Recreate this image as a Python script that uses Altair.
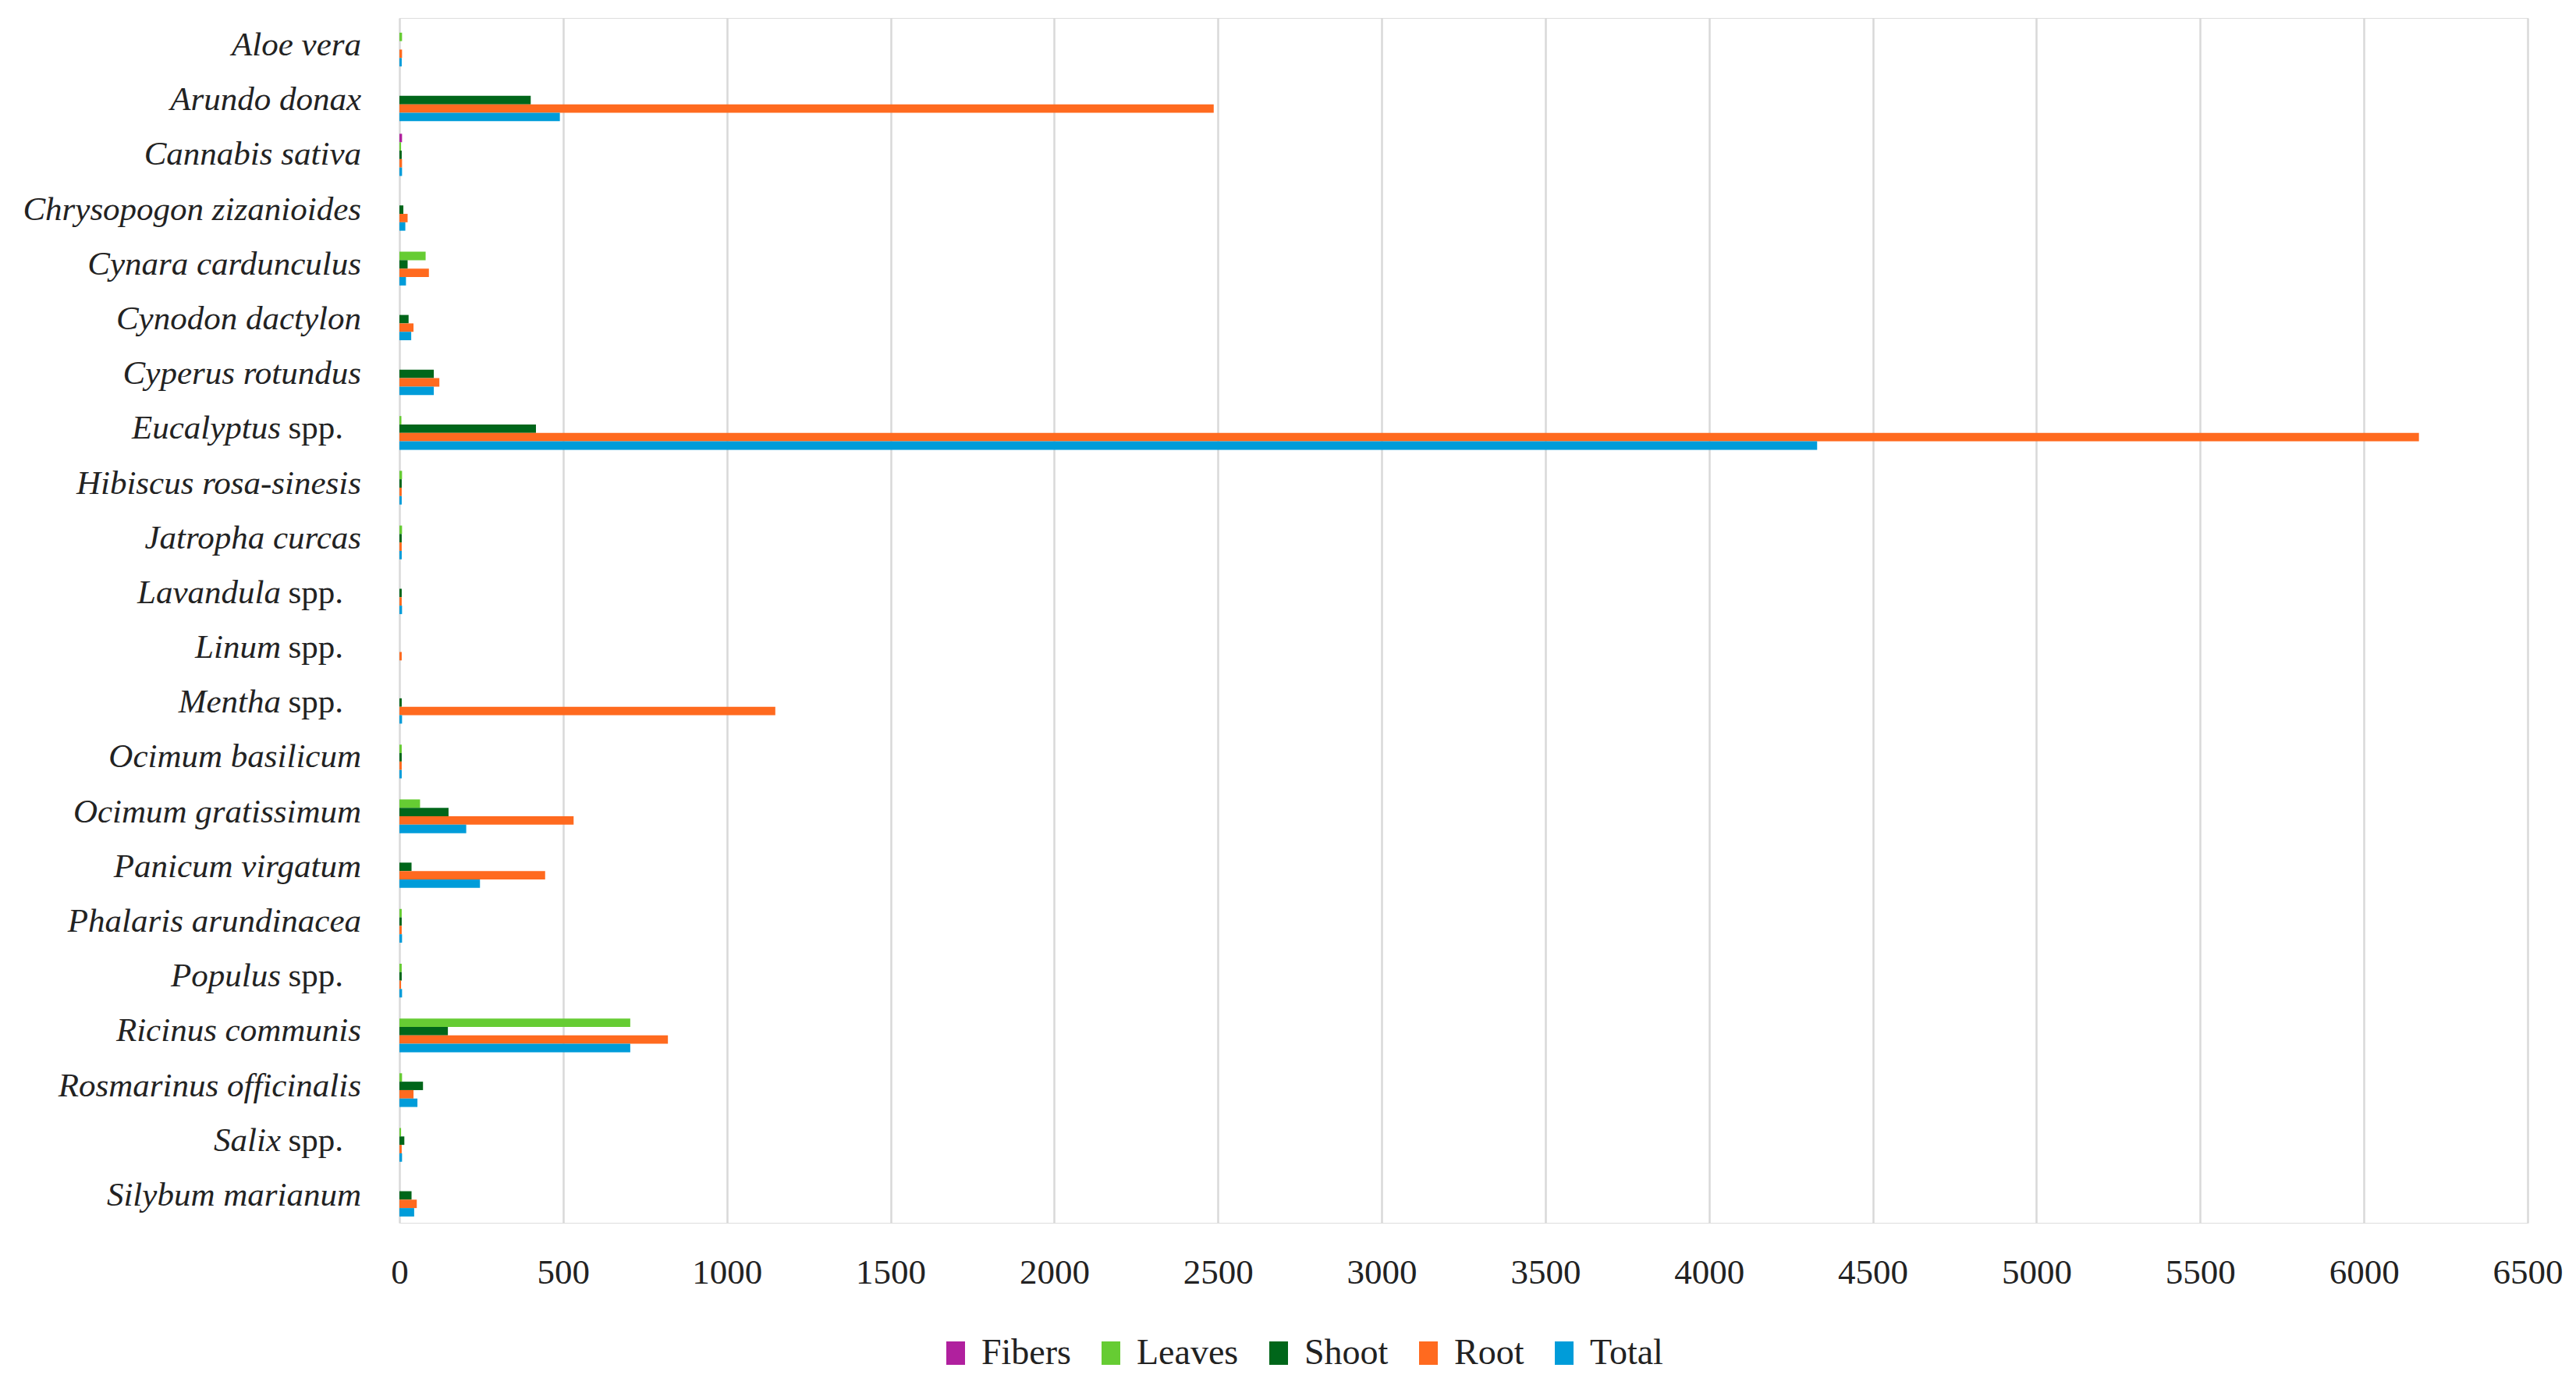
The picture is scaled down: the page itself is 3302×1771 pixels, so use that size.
import altair as alt
import pandas as pd

species = [
    "Aloe vera", "Arundo donax", "Cannabis sativa", "Chrysopogon zizanioides",
    "Cynara cardunculus", "Cynodon dactylon", "Cyperus rotundus", "Eucalyptus spp.",
    "Hibiscus rosa-sinesis", "Jatropha curcas", "Lavandula spp.", "Linum spp.",
    "Mentha spp.", "Ocimum basilicum", "Ocimum gratissimum", "Panicum virgatum",
    "Phalaris arundinacea", "Populus spp.", "Ricinus communis", "Rosmarinus officinalis",
    "Salix spp.", "Silybum marianum",
]
series = ["Fibers", "Leaves", "Shoot", "Root", "Total"]
fibers = [0, 0, 8, 0, 0, 0, 0, 0, 0, 0, 0, 0, 0, 0, 0, 0, 0, 0, 0, 0, 0, 0]
leaves = [8, 0, 5, 0, 80, 0, 0, 6, 8, 8, 0, 0, 0, 7, 63, 0, 7, 7, 705, 8, 5, 0]
shoot = [0, 401, 7, 12, 25, 28, 105, 417, 7, 7, 7, 0, 7, 7, 150, 37, 7, 7, 148, 72, 15, 37]
root = [8, 2487, 8, 25, 90, 43, 122, 6168, 7, 7, 7, 7, 1148, 7, 532, 445, 7, 5, 820, 43, 7, 53]
total = [7, 490, 8, 18, 20, 36, 105, 4330, 7, 7, 8, 0, 8, 7, 204, 246, 8, 8, 705, 55, 8, 45]
colors = ["#B0209E", "#66CC33", "#00661A", "#FF6A1F", "#009CD9"]
x_ticks = list(range(0, 6501, 500))

rows = []
for i, sp in enumerate(species):
    for s, vals in zip(series, [fibers, leaves, shoot, root, total]):
        rows.append({"species": sp, "series": s, "value": vals[i]})
df = pd.DataFrame(rows)

lab = pd.DataFrame({
    "species": species,
    "genus": [sp.replace(" spp.", "") for sp in species],
    "spp": [sp.endswith(" spp.") for sp in species],
    "suffix": ["spp." if sp.endswith(" spp.") else "" for sp in species],
})

FONT = "Liberation Serif"
yenc = alt.Y("species:N", sort=species, axis=None,
             scale=alt.Scale(paddingInner=0.23, paddingOuter=0.115))

bars = alt.Chart(df).mark_bar().encode(
    y=yenc,
    yOffset=alt.YOffset("series:N", sort=series, scale=alt.Scale(domain=series, paddingInner=0, paddingOuter=0)),
    x=alt.X("value:Q", scale=alt.Scale(domain=[0, 6500], nice=False, zero=True),
            axis=alt.Axis(values=x_ticks, format="d", grid=True, gridColor="#d9d9d9", gridWidth=2.5,
                          domain=False, ticks=False, tickSize=0, labelFontSize=45,
                          labelFont=FONT, labelColor="#222222", labelPadding=41,
                          title=None, labelFlush=False)),
    color=alt.Color("series:N", sort=series,
                    scale=alt.Scale(domain=series, range=colors),
                    legend=alt.Legend(title=None, orient="none", direction="horizontal",
                                      legendX=690, legendY=1688,
                                      symbolType="M-0.8,-1H0.8V1H-0.8Z", symbolSize=900,
                                      symbolStrokeWidth=0, symbolOpacity=1,
                                      labelFont=FONT, labelFontSize=46, labelColor="#222222",
                                      labelOffset=10, columnPadding=28, padding=0)),
)

base_txt = alt.Chart(lab)
plain = base_txt.transform_filter("!datum.spp").mark_text(
    align="right", baseline="middle", font=FONT, fontSize=43, fontStyle="italic", color="#222222"
).encode(y=alt.Y("species:N", sort=species, axis=None), x=alt.value(-49), text="genus:N")

genus_spp = base_txt.transform_filter("datum.spp").mark_text(
    align="right", baseline="middle", font=FONT, fontSize=43, fontStyle="italic", color="#222222"
).encode(y=alt.Y("species:N", sort=species, axis=None), x=alt.value(-152), text="genus:N")

suffix = base_txt.transform_filter("datum.spp").mark_text(
    align="right", baseline="middle", font=FONT, fontSize=43, color="#222222"
).encode(y=alt.Y("species:N", sort=species, axis=None), x=alt.value(-72), text="suffix:N")

chart = alt.layer(bars, plain, genus_spp, suffix).properties(
    width=2728, height=1544,
    autosize=alt.AutoSizeParams(type="none"),
    padding={"left": 504, "top": 15, "right": 50, "bottom": 190},
).configure_view(stroke=None).configure(background="white")

chart.save("out.html", embed_options={"renderer": "svg", "actions": False})
